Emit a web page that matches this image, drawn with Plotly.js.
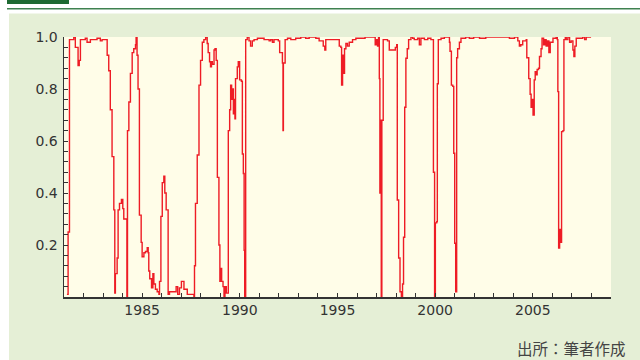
<!DOCTYPE html>
<html>
<head>
<meta charset="utf-8">
<script src="https://cdn.plot.ly/plotly-3.0.1.min.js"></script>
<style>
html,body{margin:0;padding:0;background:#ffffff;}
#chart{width:640px;height:360px;}
</style>
</head>
<body>
<div id="chart"></div>
<script>
// Decimal-year dates
const years = [
1981.15,1981.21,1981.28,1981.50,1981.58,1981.72,1981.78,1981.84,1982.09,1982.18,1982.35,1982.52,1982.69,1982.86,1982.95,1983.17,
1983.21,1983.29,1983.37,1983.46,1983.55,1983.60,1983.63,1983.72,1983.77,1983.84,1983.94,1984.01,1984.06,1984.18,1984.22,1984.25,
1984.32,1984.40,1984.49,1984.57,1984.66,1984.69,1984.74,1984.79,1984.86,1984.95,1985.00,1985.09,1985.17,1985.26,1985.31,1985.34,
1985.39,1985.48,1985.55,1985.60,1985.68,1985.77,1985.86,1985.89,1985.96,1986.03,1986.11,1986.16,1986.23,1986.30,1986.33,1986.40,
1986.54,1986.74,1986.82,1986.91,1987.01,1987.14,1987.31,1987.56,1987.65,1987.68,1987.73,1987.82,1987.91,1987.99,1988.08,1988.16,
1988.25,1988.33,1988.38,1988.45,1988.50,1988.55,1988.59,1988.68,1988.73,1988.79,1988.85,1988.93,1988.98,1989.01,1989.07,1989.14,
1989.19,1989.24,1989.31,1989.41,1989.48,1989.53,1989.58,1989.62,1989.67,1989.70,1989.75,1989.78,1989.87,1989.92,1989.99,1990.08,
1990.13,1990.18,1990.22,1990.25,1990.30,1990.38,1990.47,1990.55,1990.64,1990.73,1990.90,1991.07,1991.24,1991.41,1991.50,1991.58,
1991.67,1991.75,1991.97,1992.04,1992.18,1992.21,1992.23,1992.32,1992.44,1992.61,1992.86,1993.12,1993.29,1993.37,1993.55,1993.89,
1994.06,1994.23,1994.27,1994.35,1994.40,1994.57,1995.00,1995.09,1995.17,1995.21,1995.26,1995.31,1995.36,1995.43,1995.51,1995.60,
1995.77,1995.94,1996.27,1996.41,1996.88,1996.93,1997.00,1997.05,1997.10,1997.14,1997.17,1997.21,1997.24,1997.27,1997.34,1997.56,
1997.65,1997.82,1997.96,1998.03,1998.06,1998.13,1998.20,1998.27,1998.33,1998.38,1998.44,1998.50,1998.57,1998.64,1998.76,1998.85,
1998.93,1999.10,1999.19,1999.27,1999.45,1999.62,1999.78,1999.87,1999.91,1999.97,2000.01,2000.08,2000.11,2000.16,2000.30,2000.47,
2000.64,2000.73,2000.76,2000.83,2000.90,2000.95,2001.00,2001.05,2001.10,2001.15,2001.24,2001.32,2001.56,2001.75,2001.97,2002.27,
2002.59,2002.95,2003.56,2003.80,2004.06,2004.23,2004.31,2004.38,2004.48,2004.66,2004.69,2004.79,2004.86,2004.91,2004.96,2005.01,
2005.07,2005.12,2005.17,2005.22,2005.29,2005.34,2005.42,2005.47,2005.55,2005.62,2005.68,2005.75,2005.82,2005.89,2006.03,2006.19,
2006.25,2006.28,2006.32,2006.37,2006.42,2006.47,2006.54,2006.59,2006.66,2006.71,2006.79,2006.88,2006.96,2007.05,2007.10,2007.15,
2007.22,2007.40,2007.55,2007.65,2007.73,2007.90,2007.98
];
// Probability values
const prob = [
0.01,0.25,0.99,1.0,0.96,0.89,0.91,0.99,0.995,0.98,0.99,0.99,0.995,0.985,0.99,0.99,
0.93,0.87,0.72,0.54,0.335,0.015,0.09,0.15,0.335,0.36,0.375,0.34,0.30,0.30,0.0,0.64,
0.75,0.86,0.94,0.955,0.97,1.0,0.93,0.80,0.315,0.21,0.155,0.17,0.175,0.19,0.17,0.10,
0.07,0.035,0.09,0.05,0.03,0.02,0.01,0.06,0.31,0.44,0.465,0.40,0.335,0.335,0.01,0.02,
0.02,0.04,0.01,0.035,0.06,0.03,0.01,0.01,0.0,0.12,0.36,0.546,0.815,0.91,0.98,0.99,
1.0,0.975,0.94,0.905,0.885,0.905,0.895,0.95,0.955,0.91,0.46,0.20,0.06,0.11,0.06,0.04,
0.0,0.04,0.015,0.64,0.72,0.815,0.76,0.80,0.705,0.76,0.685,0.84,0.885,0.905,0.835,0.83,
0.55,0.475,0.18,0.0,0.99,1.0,0.985,0.965,0.985,0.99,0.995,0.995,0.99,0.99,0.985,0.99,
0.98,0.99,0.985,0.94,0.90,0.64,0.90,0.99,0.995,0.99,0.995,1.0,1.0,0.995,1.0,0.995,
0.985,0.985,0.965,0.95,0.99,0.99,0.99,0.965,0.96,0.815,0.93,0.86,0.955,0.975,0.965,0.98,
0.99,0.995,0.995,1.0,1.0,0.97,0.99,0.965,1.0,0.84,0.40,0.68,0.0,0.68,0.99,0.985,
0.95,0.95,0.96,0.97,0.373,0.15,0.02,0.0,0.05,0.23,0.73,0.918,0.955,0.99,1.0,0.995,
0.99,0.995,0.97,0.995,0.99,0.995,0.99,0.99,0.48,0.0,0.285,0.29,0.82,0.99,0.995,1.0,
1.0,0.98,0.945,0.815,0.81,0.553,0.207,0.02,0.92,0.955,0.98,0.995,1.0,0.995,1.0,0.995,
1.0,1.0,1.0,0.995,1.0,0.985,0.965,0.97,0.985,0.99,0.92,0.84,0.78,0.73,0.76,0.70,
0.835,0.867,0.855,0.875,0.88,0.925,0.955,0.995,0.97,0.99,0.965,0.985,0.94,0.98,0.995,1.0,
0.99,0.79,0.188,0.26,0.21,0.636,0.64,0.99,1.0,0.99,1.0,0.98,0.985,0.95,0.925,0.965,
0.995,0.995,1.0,0.99,1.0,1.0,1.0
];
const xTickVals = [1985, 1990, 1995, 2000, 2005];
const xTickText = ["1985", "1990", "1995", "2000", "2005"];
const yTickVals = [0.2, 0.4, 0.6, 0.8, 1.0];
const yTickText = ["0.2", "0.4", "0.6", "0.8", "1.0"];
const sourceText = "出所：筆者作成";

// pixel -> paper helpers for decorations
const L = 64, R = 611, T = 37, B = 297;
const px = v => (v - L) / (R - L);
const py = v => (B - v) / (B - T);

const trace = {
  x: years, y: prob, type: 'scatter', mode: 'lines',
  line: {color: '#ee1c25', width: 1.4, shape: 'hv'},
  hoverinfo: 'skip'
};

const axisFont = {family: 'DejaVu Sans, sans-serif', size: 14, color: '#333333'};

const layout = {
  width: 640, height: 360,
  margin: {l: L, r: 640 - R, t: T, b: 360 - B, pad: 0},
  paper_bgcolor: '#e5efd6',
  plot_bgcolor: '#fffde8',
  showlegend: false,
  xaxis: {
    range: [1981, 2009], showgrid: false, zeroline: false,
    showline: true, linecolor: '#333333', linewidth: 1.5,
    tickmode: 'array', tickvals: xTickVals, ticktext: xTickText,
    ticks: 'inside', ticklen: 4, tickcolor: '#333333', tickwidth: 1,
    tickfont: axisFont,
    minor: {tickmode: 'linear', tick0: 1981, dtick: 1, ticks: 'inside', ticklen: 4, tickcolor: '#333333', tickwidth: 1, showgrid: false}
  },
  yaxis: {
    range: [0, 1], showgrid: false, zeroline: false,
    showline: true, linecolor: '#333333', linewidth: 1.5,
    tickmode: 'array', tickvals: yTickVals, ticktext: yTickText,
    ticks: 'inside', ticklen: 4, tickcolor: '#333333', tickwidth: 1,
    tickfont: axisFont, ticklabelstandoff: 2,
    minor: {tickmode: 'linear', tick0: 0, dtick: 0.04, ticks: 'inside', ticklen: 4, tickcolor: '#333333', tickwidth: 1, showgrid: false}
  },
  shapes: [
    {type: 'rect', xref: 'paper', yref: 'paper', x0: px(0), x1: px(640), y0: py(13.5), y1: py(0), fillcolor: '#ffffff', line: {width: 0}},
    {type: 'rect', xref: 'paper', yref: 'paper', x0: px(0), x1: px(9), y0: py(360), y1: py(0), fillcolor: '#ffffff', line: {width: 0}},
    {type: 'rect', xref: 'paper', yref: 'paper', x0: px(7), x1: px(69), y0: py(4), y1: py(0), fillcolor: '#1e6a32', line: {width: 0}},
    {type: 'line', xref: 'paper', yref: 'paper', x0: px(7), x1: px(640), y0: py(8.7), y1: py(8.7), line: {color: '#3f8150', width: 1.5}}
  ],
  annotations: [
    {xref: 'paper', yref: 'paper', x: px(628), y: py(348), xanchor: 'right', yanchor: 'middle',
     text: sourceText, showarrow: false,
     font: {family: 'Noto Sans CJK JP, sans-serif', size: 15.5, color: '#444444'}}
  ]
};

Plotly.newPlot('chart', [trace], layout, {staticPlot: true, displayModeBar: false});
</script>
</body>
</html>
